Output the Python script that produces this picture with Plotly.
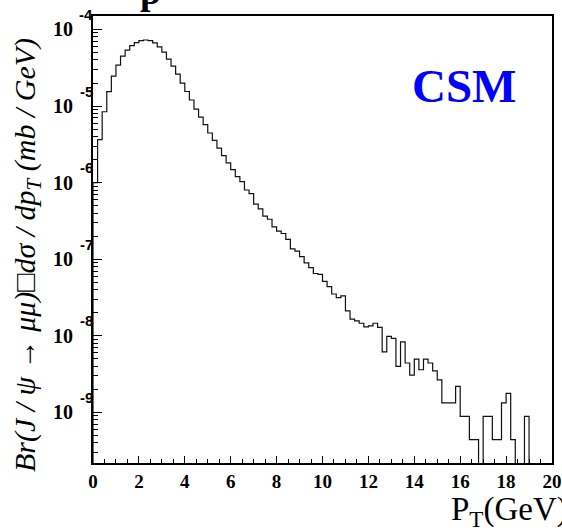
import numpy as np
import plotly.graph_objects as go

# pT bins: 100 bins of 0.2 GeV from 0 to 20
pt_edges = np.linspace(0, 20, 101)

# Br(J/psi -> mu mu) dsigma/dpT  (mb/GeV), one value per bin
dsig = [
    1.00e-6, 3.64e-6, 8.43e-6, 1.54e-5, 2.46e-5, 3.43e-5, 4.48e-5, 5.36e-5, 6.14e-5, 6.73e-5,
    7.14e-5, 7.29e-5, 7.14e-5, 6.67e-5, 5.92e-5, 5.06e-5, 4.09e-5, 3.32e-5, 2.62e-5, 1.99e-5,
    1.55e-5, 1.20e-5, 9.14e-6, 7.19e-6, 5.71e-6, 4.45e-6, 3.56e-6, 2.82e-6, 2.25e-6, 1.81e-6,
    1.48e-6, 1.20e-6, 1.03e-6, 8.02e-7, 7.21e-7, 5.26e-7, 4.56e-7, 3.65e-7, 3.33e-7, 2.64e-7,
    2.33e-7, 2.17e-7, 1.82e-7, 1.37e-7, 1.28e-7, 1.08e-7, 8.97e-8, 7.78e-8, 6.52e-8, 6.35e-8,
    5.15e-8, 4.40e-8, 3.52e-8, 3.16e-8, 3.32e-8, 2.12e-8, 1.65e-8, 1.57e-8, 1.46e-8, 1.31e-8,
    1.35e-8, 1.46e-8, 1.29e-8, 6.19e-9, 9.82e-9, 9.25e-9, 4.00e-9, 8.36e-9, 4.42e-9, 3.08e-9,
    4.98e-9, 3.61e-9, 4.98e-9, 4.42e-9, 3.50e-9, 2.67e-9, 1.33e-9, 1.33e-9, 1.33e-9, 2.19e-9,
    8.9e-10, 8.9e-10, 4.43e-10, 4.43e-10, 0, 8.9e-10, 8.9e-10, 4.43e-10, 4.43e-10, 1.33e-9,
    1.77e-9, 4.43e-10, 0, 0, 8.9e-10, 0, 0, 0, 0, 0,
]

y_decades = [-9, -8, -7, -6, -5, -4]

# empty bins -> push below the axis so the outline drops to the bottom
floor = 1e-15
yv = [v if v > 0 else floor for v in dsig]
xs = [0] + list(pt_edges)
ys = [floor] + yv + [yv[-1]]

fig = go.Figure()
fig.add_trace(go.Scatter(x=xs, y=ys, mode='lines', line_shape='hv',
                         line=dict(color='#111111', width=1.2),
                         showlegend=False, hoverinfo='skip'))

serif = "Liberation Serif"
fig.update_xaxes(range=[0, 20], dtick=2, ticks='inside', ticklen=7, tickwidth=1,
                 tickcolor='black', showline=True, linecolor='black', linewidth=1.5,
                 mirror=True, showgrid=False, zeroline=False, automargin=False,
                 tickfont=dict(family=serif, size=19, color='black', weight='bold'),
                 minor=dict(dtick=0.5, ticks='inside', ticklen=4, tickcolor='black',
                            showgrid=False))
fig.update_yaxes(type='log', range=[-9.66, -3.824], tickmode='array',
                 tickvals=[10.0 ** d for d in y_decades], showticklabels=False,
                 ticks='inside', ticklen=9, tickwidth=1, tickcolor='black',
                 showline=True, linecolor='black', linewidth=1.5, mirror=True,
                 showgrid=False, zeroline=False, automargin=False,
                 minor=dict(dtick='D1', ticks='inside', ticklen=5, tickcolor='black',
                            showgrid=False))

# PAW-style decade labels: "10" on the tick, exponent raised against the axis
for d in y_decades:
    fig.add_annotation(text="10", xref='paper', yref='y', x=-0.0654, y=d,
                       xanchor='center', yanchor='middle', showarrow=False,
                       font=dict(family=serif, size=20, color='black', weight='bold'))
    fig.add_annotation(text=str(d), xref='paper', yref='y', x=0.004, y=d, yshift=15,
                       xanchor='right', yanchor='middle', showarrow=False,
                       font=dict(family="Liberation Sans", size=15, color='black',
                                 weight='bold'))

fig.add_annotation(text="CSM", xref='paper', yref='paper', x=0.808, y=0.843,
                   xanchor='center', yanchor='middle', showarrow=False,
                   font=dict(family=serif, size=47, color='#0000ff', weight='bold'))
fig.add_annotation(text="Br(J / ψ → μμ)□dσ / dp<sub>T</sub> (mb / GeV)",
                   xref='paper', yref='paper', x=-0.144, y=0.465, textangle=-90,
                   xanchor='center', yanchor='middle', showarrow=False,
                   font=dict(family=serif, size=30, color='black', style='italic'))
fig.add_annotation(text="P<sub>T</sub>(GeV)", xref='paper', yref='paper',
                   x=0.776, y=-0.1096, xanchor='left', yanchor='middle', showarrow=False,
                   font=dict(family=serif, size=33, color='black'))
# bottom of a cut-off title glyph at the very top
fig.add_annotation(text="p", xref='paper', yref='paper', x=0.126, y=1.0, yshift=2,
                   xanchor='center', yanchor='bottom', showarrow=False,
                   font=dict(family=serif, size=38, color='black', weight='bold'))

fig.update_layout(width=562, height=531, margin=dict(l=93, r=10, t=16, b=68),
                  plot_bgcolor='white', paper_bgcolor='white')
# drop the default page margin so the figure fills the window exactly
fig.write_html("out.html", config={'displayModeBar': False},
               post_script="document.body.style.margin='0';"
                           "document.body.style.overflow='hidden';")
